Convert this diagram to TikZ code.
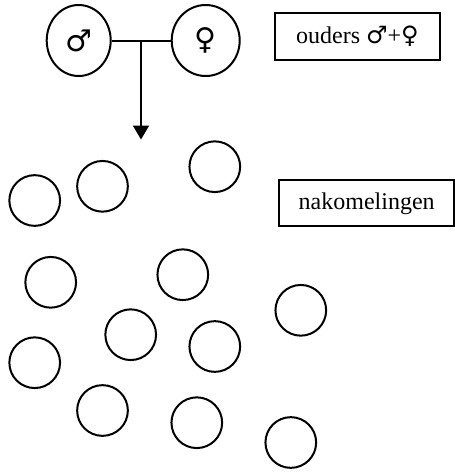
\documentclass[tikz,border=0pt]{standalone}
\usepackage{fontspec}
\setmainfont{Liberation Serif}
\newfontfamily\gendersym{DejaVu Sans}
\usetikzlibrary{shapes.geometric}
\usetikzlibrary{arrows.meta}
\newcommand{\Offspring}[2]{%
  \node (#1) [kid] at (#2) {};
}

\begin{document}
\begin{tikzpicture}[x=0.5pt, y=-0.5pt, line width=1pt,
    kid/.style={circle, draw, minimum size=25.35pt, inner sep=0pt},
    parent/.style={ellipse, draw, inner sep=0pt, minimum height=35.5pt,
      font=\gendersym\fontsize{15}{18}\selectfont},
    tag/.style={rectangle, draw, inner sep=0pt,
      font=\fontsize{12}{14}\selectfont}]
    \useasboundingbox (0,0) rectangle (455,472);

    % ouders
    \node (man) [parent, minimum width=32pt] at (78.7,40.5) {♂};
    \node (woman) [parent, minimum width=34pt] at (205.7,40.5) {♀};
    \node (ouders) [tag, minimum width=82.2pt, minimum height=23.2pt] at (357.5,36.5)
      {ouders {\gendersym ♂}+{\gendersym ♀}};
    \draw (man) -- (woman);
    \coordinate (join) at (141,40.5);
    \coordinate (down) at (141,139.5);
    \draw[-{Triangle[length=7pt,width=8pt]}] (join) -- (down);

    % nakomelingen
    \node (nako) [tag, minimum width=87.4pt, minimum height=23pt] at (366.7,203.3)
      {nakomelingen};
    \Offspring{k1}{34.7,200.5}
    \Offspring{k2}{102.5,186.3}
    \Offspring{k3}{214.8,166.7}
    \Offspring{k4}{50.7,282.3}
    \Offspring{k5}{182.8,274.7}
    \Offspring{k6}{300.8,310.3}
    \Offspring{k7}{130.7,334.7}
    \Offspring{k8}{214.8,346.5}
    \Offspring{k9}{34.7,362.7}
    \Offspring{k10}{102.5,410.5}
    \Offspring{k11}{196.8,422.7}
    \Offspring{k12}{290.8,442.5}
\end{tikzpicture}
\end{document}
